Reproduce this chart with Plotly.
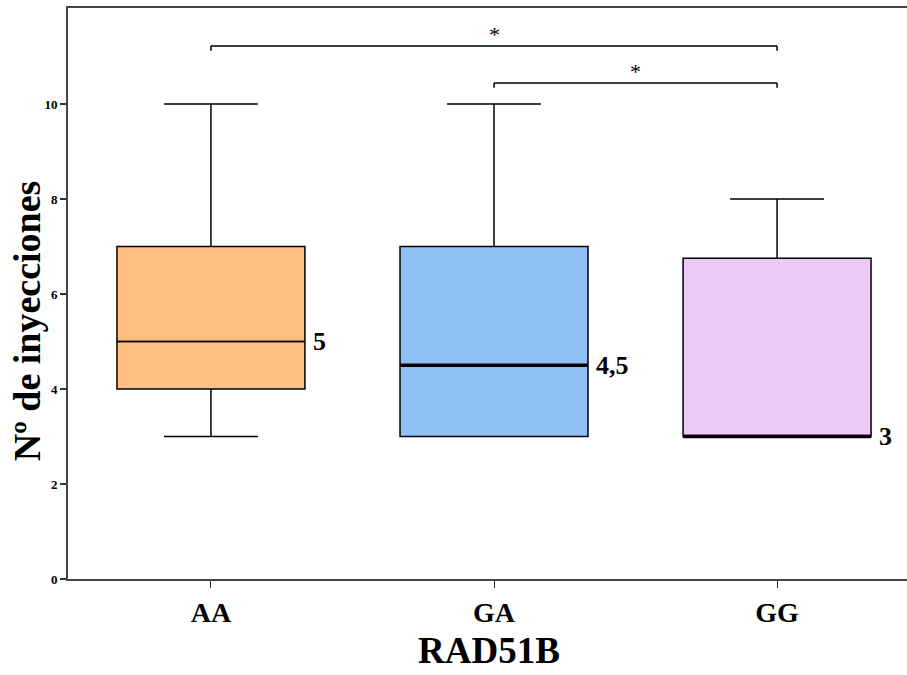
import plotly.graph_objects as go

categories = ["AA", "GA", "GG"]
lower = [3, 3, 3]
q1 = [4, 3, 3]
median = [5, 4.5, 3]
q3 = [7, 7, 6.75]
upper = [10, 10, 8]
median_labels = ["5", "4,5", "3"]
colors = ["#FFBF80", "#8FBFF5", "#EDC9F5"]
median_width = [1.5, 3.5, 3.5]

brackets = [(0, 2, 11.22, "*"), (1, 2, 10.44, "*")]

fig = go.Figure()
half = 0.332
for i, c in enumerate(categories):
    fig.add_trace(go.Box(
        x=[i], q1=[q1[i]], median=[median[i]], q3=[q3[i]],
        lowerfence=[lower[i]], upperfence=[upper[i]],
        fillcolor=colors[i], line=dict(color="black", width=1.5),
        whiskerwidth=0.5, width=2 * half, boxpoints=False, showlegend=False,
        hoverinfo="skip",
    ))
    fig.add_trace(go.Scatter(
        x=[i - half, i + half], y=[median[i], median[i]], mode="lines",
        line=dict(color="black", width=median_width[i]), showlegend=False,
        hoverinfo="skip",
    ))
    fig.add_annotation(x=i + half, y=median[i], text="<b>%s</b>" % median_labels[i],
                       xanchor="left", yanchor="middle", showarrow=False, xshift=6,
                       font=dict(family="Liberation Serif", size=26, color="black"))

for a, b, y, txt in brackets:
    fig.add_shape(type="line", x0=a, x1=b, y0=y, y1=y, line=dict(color="black", width=1.5))
    for xx in (a, b):
        fig.add_shape(type="line", x0=xx, x1=xx, y0=y, y1=y - 0.1, line=dict(color="black", width=1.5))
    fig.add_annotation(x=(a + b) / 2, y=y, text=txt, showarrow=False, yanchor="bottom",
                       yshift=-3, font=dict(family="Liberation Serif", size=22, color="black"))

# axis titles as annotations
fig.add_annotation(xref="paper", yref="paper", x=-0.049, y=0.453, textangle=-90,
                   text="<b>Nº de inyecciones</b>", showarrow=False,
                   xanchor="center", yanchor="middle",
                   font=dict(family="Liberation Serif", size=38, color="black"))
fig.add_annotation(xref="paper", yref="paper", x=0.502, y=-0.125,
                   text="<b>RAD51B</b>", showarrow=False,
                   xanchor="center", yanchor="middle",
                   font=dict(family="Liberation Serif", size=37, color="black"))

fig.update_layout(
    width=907, height=675,
    margin=dict(l=68, r=0, t=8, b=96),
    plot_bgcolor="white", paper_bgcolor="white",
    boxmode="overlay",
    font=dict(family="Liberation Serif", color="black"),
    xaxis=dict(
        range=[-0.505, 2.459], tickvals=[0, 1, 2], ticktext=["<b>%s</b>" % c for c in categories],
        ticks="outside", ticklen=7, tickwidth=1, tickcolor="#333",
        showline=True, linecolor="#444", linewidth=2, mirror=True,
        showgrid=False, zeroline=False,
        tickfont=dict(family="Liberation Serif", size=28, color="black"),
    ),
    yaxis=dict(
        range=[0, 12.02], tickvals=[0, 2, 4, 6, 8, 10],
        ticktext=["<b>%d</b>" % v for v in [0, 2, 4, 6, 8, 10]],
        ticks="outside", ticklen=6, tickwidth=1.5, tickcolor="#333",
        showline=True, linecolor="#444", linewidth=2,
        showgrid=False, zeroline=False,
        tickfont=dict(family="Liberation Serif", size=13, color="black"),
    ),
)

fig.write_html("out.html", config={"displayModeBar": False},
               post_script="document.body.style.margin='0px';document.body.style.overflow='hidden';")
